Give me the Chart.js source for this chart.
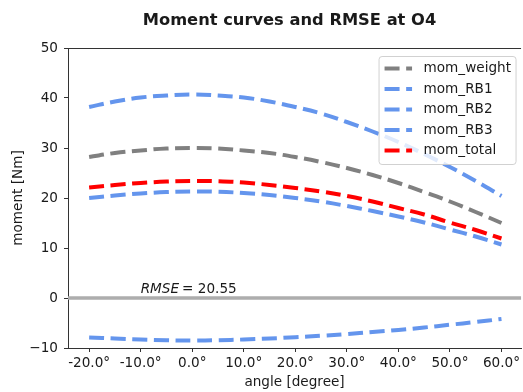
<!DOCTYPE html>
<html>
<head>
<meta charset="utf-8">
<title>Moment curves</title>
<script src="https://cdn.jsdelivr.net/npm/chart.js@4.4.1/dist/chart.umd.min.js"></script>
<style>
  html, body { margin: 0; padding: 0; background: #fff; }
  canvas { display: block; }
</style>
</head>
<body>
<canvas id="momentChart" width="523" height="392"></canvas>
<script>
// joint angle [deg] and the moment of each contribution [Nm]
const angles    = [-20, -15, -10, -5, 0, 5, 10, 15, 20, 25, 30, 35, 40, 45, 50, 55, 60];
const momWeight = [28.2, 29.0, 29.5, 29.9, 30.0, 29.9, 29.5, 29.0, 28.2, 27.2, 26.0, 24.6, 23.0, 21.2, 19.3, 17.2, 15.0];
const momRB1    = [38.2, 39.3, 40.1, 40.5, 40.7, 40.5, 40.1, 39.3, 38.2, 36.9, 35.2, 33.3, 31.2, 28.8, 26.2, 23.4, 20.4];
const momRB2    = [20.0, 20.5, 20.9, 21.2, 21.3, 21.25, 21.0, 20.6, 20.0, 19.3, 18.4, 17.4, 16.3, 15.1, 13.7, 12.3, 10.7];
const momRB3    = [-7.9, -8.1, -8.3, -8.45, -8.5, -8.45, -8.3, -8.1, -7.85, -7.55, -7.2, -6.8, -6.4, -5.9, -5.35, -4.8, -4.2];
const momTotal  = [22.1, 22.6, 23.0, 23.3, 23.4, 23.35, 23.1, 22.6, 22.0, 21.3, 20.4, 19.3, 18.0, 16.7, 15.1, 13.6, 11.9];

const seriesNames  = ['mom_weight', 'mom_RB1', 'mom_RB2', 'mom_RB3', 'mom_total'];
const seriesValues = [momWeight, momRB1, momRB2, momRB3, momTotal];
const seriesColors = ['#808080', '#6495ed', '#6495ed', '#6495ed', '#ff0000'];

const angleTicks  = [-20, -10, 0, 10, 20, 30, 40, 50, 60];
const angleLimits = [-24.1, 63.8];
const momentLimits = [-10, 50];

const rmse = 20.55;
const rmseAt = { x: -10, y: 1 };

const FONT = "'DejaVu Sans', sans-serif";
const TEXT = '#1a1a1a';
const DASH = [15, 6.6];

Chart.defaults.font.family = FONT;
Chart.defaults.color = TEXT;

const datasets = seriesNames.map((name, i) => ({
  label: name,
  data: angles.map((a, j) => ({ x: a, y: seriesValues[i][j] })),
  borderColor: seriesColors[i],
  backgroundColor: seriesColors[i],
  borderWidth: 4,
  borderDash: DASH,
  borderCapStyle: 'butt',
  pointRadius: 0,
  tension: 0.4,
  fill: false,
  order: seriesNames.length - i
}));

// frame top line, zero line, title, RMSE note and the legend box
const extras = {
  id: 'extras',
  beforeDatasetsDraw(chart) {
    const { ctx, chartArea, scales } = chart;
    const y0 = scales.y.getPixelForValue(0);
    ctx.save();
    ctx.strokeStyle = '#adadad';
    ctx.lineWidth = 3.5;
    ctx.beginPath();
    ctx.moveTo(chartArea.left, y0);
    ctx.lineTo(chartArea.right, y0);
    ctx.stroke();

    ctx.strokeStyle = '#333';
    ctx.lineWidth = 1;
    ctx.beginPath();
    ctx.moveTo(chartArea.left, chartArea.top + 0.5);
    ctx.lineTo(chartArea.right, chartArea.top + 0.5);
    ctx.stroke();
    ctx.restore();
  },
  afterDraw(chart) {
    const { ctx, chartArea, scales } = chart;
    ctx.save();

    // title
    ctx.fillStyle = TEXT;
    ctx.font = "bold 16.3px " + FONT;
    ctx.textAlign = 'center';
    ctx.textBaseline = 'alphabetic';
    ctx.fillText('Moment curves and RMSE at O4', 289.5, 24.5);

    // RMSE note
    const tx = scales.x.getPixelForValue(rmseAt.x);
    const ty = scales.y.getPixelForValue(rmseAt.y);
    ctx.textAlign = 'left';
    ctx.font = "italic 13.6px " + FONT;
    ctx.fillText('RMSE', tx, ty);
    const w = ctx.measureText('RMSE').width;
    ctx.font = "13.6px " + FONT;
    ctx.fillText('= ' + rmse.toFixed(2), tx + w + 3, ty);

    // legend
    const bw = 137, bh = 108;
    const bx = chartArea.right - 5.5 - bw;
    const by = chartArea.top + 8;
    ctx.fillStyle = 'rgba(255,255,255,0.8)';
    ctx.strokeStyle = 'rgba(204,204,204,0.9)';
    ctx.lineWidth = 1;
    ctx.beginPath();
    ctx.roundRect(bx + 0.5, by + 0.5, bw, bh, 3);
    ctx.fill();
    ctx.stroke();

    ctx.font = "13.6px " + FONT;
    ctx.textBaseline = 'middle';
    chart.data.datasets.forEach((ds, i) => {
      const cy = by + 12.5 + i * 20.5;
      ctx.strokeStyle = ds.borderColor;
      ctx.lineWidth = 4;
      ctx.setLineDash(DASH);
      ctx.beginPath();
      ctx.moveTo(bx + 6, cy);
      ctx.lineTo(bx + 33.5, cy);
      ctx.stroke();
      ctx.setLineDash([]);
      ctx.fillStyle = TEXT;
      ctx.fillText(ds.label, bx + 45, cy);
    });
    ctx.restore();
  }
};

new Chart(document.getElementById('momentChart'), {
  type: 'line',
  data: { datasets },
  options: {
    responsive: false,
    animation: false,
    layout: { padding: { top: 48, right: 0, bottom: 0, left: 0 } },
    plugins: {
      legend: { display: false },
      title: { display: false },
      tooltip: { enabled: false }
    },
    scales: {
      x: {
        type: 'linear',
        min: angleLimits[0],
        max: angleLimits[1],
        afterBuildTicks: s => { s.ticks = angleTicks.map(v => ({ value: v })); },
        afterFit: s => { s.height = 44; },
        ticks: {
          callback: v => v.toFixed(1) + '°',
          autoSkip: false,
          maxRotation: 0,
          padding: 3,
          color: TEXT,
          font: { size: 13.6 }
        },
        grid: { drawOnChartArea: false, tickLength: 4, color: '#333' },
        border: { color: '#333', width: 1 },
        title: {
          display: true,
          text: 'angle [degree]',
          color: TEXT,
          font: { size: 13.6 },
          padding: { top: 0, bottom: 1 }
        }
      },
      y: {
        min: momentLimits[0],
        max: momentLimits[1],
        afterFit: s => { s.width = 68; },
        ticks: {
          stepSize: 10,
          padding: 6,
          color: TEXT,
          font: { size: 13.6 },
          callback: v => (v < 0 ? '\u2212' + Math.abs(v) : String(v))
        },
        grid: { drawOnChartArea: false, tickLength: 4, color: '#333' },
        border: { color: '#333', width: 1 },
        title: {
          display: true,
          text: 'moment [Nm]',
          color: TEXT,
          font: { size: 13.6 },
          padding: { top: 10, bottom: 0 }
        }
      }
    }
  },
  plugins: [extras]
});
</script>
</body>
</html>
